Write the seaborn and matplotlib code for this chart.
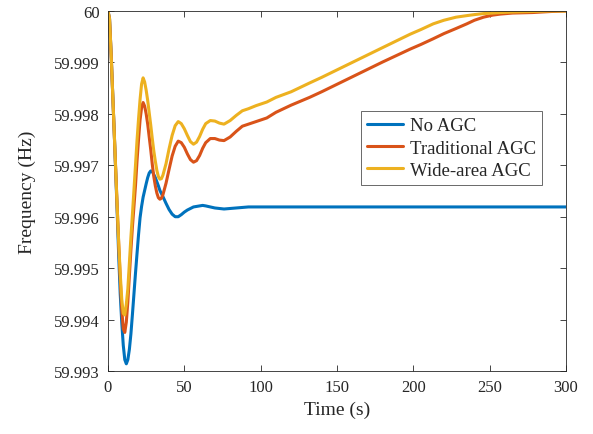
import numpy as np
import pandas as pd
import seaborn as sns
import matplotlib.pyplot as plt

# time axis (s), shared by the three runs
time_s = [0, 1, 2, 3, 4, 5, 6, 7, 8, 9, 10, 11, 12, 13, 14, 15, 16, 17, 18, 19,
          20, 21, 22, 23, 24, 25, 26, 27, 28, 29, 30, 31, 32, 33, 34, 35, 36,
          38, 40, 42, 44, 46, 48, 50, 52, 54, 56, 58, 60, 62, 64, 67, 70, 73,
          76, 80, 84, 88, 92, 97, 104, 110, 120, 132, 140, 160, 180, 198, 205,
          213, 220, 228, 235, 240, 246, 252, 257, 265, 278, 290, 300]

# frequency (Hz)
no_agc = [60.00000, 59.99985, 59.99920, 59.99845, 59.99770, 59.99690, 59.99610,
          59.99525, 59.99450, 59.99395, 59.99350, 59.99322, 59.99314, 59.99322,
          59.99342, 59.99372, 59.99410, 59.99450, 59.99490, 59.99528, 59.99565,
          59.99598, 59.99620, 59.99638, 59.99651, 59.99664, 59.99676, 59.99685,
          59.99689, 59.99688, 59.99682, 59.99676, 59.99668, 59.99660, 59.99651,
          59.99645, 59.99639,
          59.99626, 59.99614, 59.99605, 59.99600, 59.99600, 59.99604, 59.99609,
          59.99613, 59.99616, 59.99619, 59.99620, 59.99621, 59.99622, 59.99621,
          59.99619, 59.99617, 59.99616, 59.99615, 59.99616, 59.99617, 59.99618,
          59.99619, 59.99619, 59.99619, 59.99619, 59.99619, 59.99619, 59.99619,
          59.99619, 59.99619, 59.99619, 59.99619, 59.99619, 59.99619, 59.99619,
          59.99619, 59.99619, 59.99619, 59.99619, 59.99619, 59.99619, 59.99619,
          59.99619, 59.99619]

traditional_agc = [60.00000, 59.99985, 59.99920, 59.99845, 59.99770, 59.99695,
                   59.99620, 59.99548, 59.99480, 59.99420, 59.99382, 59.99375,
                   59.99395, 59.99435, 59.99485, 59.99535, 59.99580, 59.99620,
                   59.99660, 59.99708, 59.99750, 59.99788, 59.99812, 59.99822,
                   59.99815, 59.99800, 59.99780, 59.99755, 59.99730, 59.99702,
                   59.99678, 59.99660, 59.99646, 59.99637, 59.99634, 59.99636,
                   59.99643,
                   59.99665, 59.99692, 59.99718, 59.99737, 59.99747, 59.99744,
                   59.99735, 59.99722, 59.99711, 59.99706, 59.99709, 59.99719,
                   59.99733, 59.99744, 59.99752, 59.99752, 59.99749, 59.99748,
                   59.99755, 59.99766, 59.99776, 59.99780, 59.99785, 59.99792,
                   59.99803, 59.99817, 59.99832, 59.99843, 59.99872, 59.99901,
                   59.99926, 59.99935, 59.99946, 59.99956, 59.99966, 59.99975,
                   59.99982, 59.99988, 59.99992, 59.99994, 59.99996, 59.99997,
                   59.99999, 60.00000]

wide_area_agc = [60.00000, 59.99985, 59.99920, 59.99845, 59.99770, 59.99695,
                 59.99620, 59.99550, 59.99490, 59.99440, 59.99412, 59.99409,
                 59.99430, 59.99460, 59.99510, 59.99560, 59.99605, 59.99652,
                 59.99700, 59.99748, 59.99790, 59.99828, 59.99858, 59.99870,
                 59.99862, 59.99846, 59.99826, 59.99802, 59.99778, 59.99752,
                 59.99728, 59.99708, 59.99690, 59.99678, 59.99673, 59.99674,
                 59.99681,
                 59.99703, 59.99732, 59.99758, 59.99777, 59.99785, 59.99781,
                 59.99771, 59.99758, 59.99746, 59.99741, 59.99745, 59.99756,
                 59.99770, 59.99781, 59.99787, 59.99786, 59.99782, 59.99780,
                 59.99787, 59.99797, 59.99806, 59.99810, 59.99816, 59.99823,
                 59.99832, 59.99843, 59.99860, 59.99871, 59.99900, 59.99929,
                 59.99955, 59.99964, 59.99975, 59.99982, 59.99988, 59.99991,
                 59.99993, 59.99995, 59.99996, 59.99997, 59.99998, 59.99999,
                 60.00000, 60.00000]

series_names = ['No AGC', 'Traditional AGC', 'Wide-area AGC']
series_colors = ['#0072BD', '#D95319', '#EDB120']

y_ticks = [59.993, 59.994, 59.995, 59.996, 59.997, 59.998, 59.999, 60.0]
y_tick_labels = ['59.993', '59.994', '59.995', '59.996', '59.997', '59.998',
                 '59.999', '60']
x_ticks = [0, 50, 100, 150, 200, 250, 300]

df = pd.concat([
    pd.DataFrame({'Time': time_s, 'Frequency': vals, 'Case': name})
    for name, vals in zip(series_names, [no_agc, traditional_agc, wide_area_agc])
])

sns.set_style('ticks')
plt.rcParams['font.family'] = ['Liberation Serif', 'DejaVu Serif']
plt.rcParams['xtick.direction'] = 'in'
plt.rcParams['ytick.direction'] = 'in'

fig = plt.figure(figsize=(5.93, 4.35), dpi=100)
ax = fig.add_axes([108 / 593, 1 - 372 / 435, 458 / 593, 360 / 435])

sns.lineplot(data=df, x='Time', y='Frequency', hue='Case',
             palette=dict(zip(series_names, series_colors)),
             linewidth=2.2, ax=ax, sort=False)

ax.set_xlim(0, 300)
ax.set_ylim(59.993, 60.0)
ax.set_xticks(x_ticks)
ax.set_yticks(y_ticks)
ax.set_yticklabels(y_tick_labels)
ax.tick_params(axis='both', labelsize=12, colors='#262626', length=4,
               width=0.6, top=True, right=True, pad=6)
for sp in ax.spines.values():
    sp.set_visible(True)
    sp.set_color('#262626')
    sp.set_linewidth(0.6)

ax.set_xlabel('Time (s)', fontsize=14, labelpad=4)
ax.set_ylabel('Frequency (Hz)', fontsize=14, labelpad=13)

leg = ax.legend(loc='upper left', bbox_to_anchor=(0.553, 0.721), fontsize=13.5,
                frameon=True, fancybox=False, edgecolor='#262626',
                handlelength=1.9, handletextpad=0.4, borderpad=0.3,
                labelspacing=0.28, borderaxespad=0)
leg.get_frame().set_linewidth(0.6)
for line in leg.get_lines():
    line.set_linewidth(2.2)

fig.savefig('out.png', dpi=100)
